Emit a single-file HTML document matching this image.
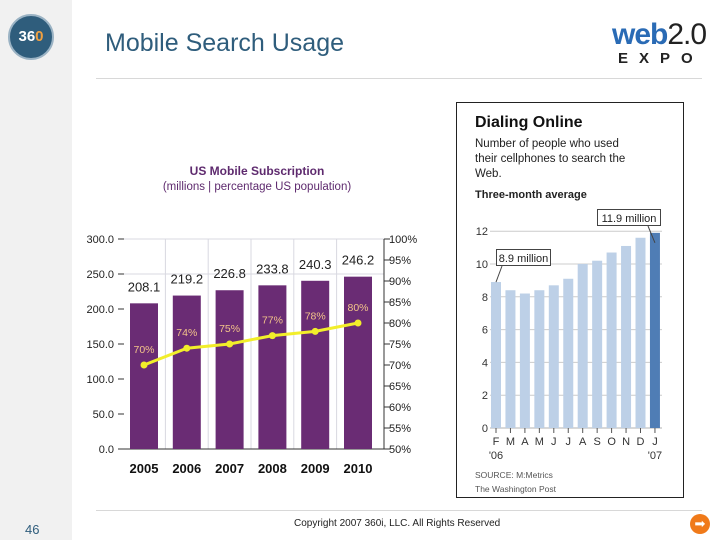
<!DOCTYPE html>
<html><head><meta charset="utf-8"><style>
body{margin:0;width:720px;height:540px;position:relative;background:#fff;font-family:"Liberation Sans",sans-serif;overflow:hidden}
.abs{position:absolute}
</style></head><body>
<div class="abs" style="left:0;top:0;width:72px;height:540px;background:#f1f1f1"></div>
<div class="abs" style="left:8px;top:14px;width:46px;height:46px;border-radius:50%;background:#2f5d7c;border:2px solid #9bb3c4;box-sizing:border-box;color:#fff;font-weight:bold;font-size:15px;line-height:42px;text-align:center">36<span style="color:#f0a040">0</span></div>
<div class="abs" style="left:105px;top:29px;font-size:25px;color:#2f5d7c">Mobile Search Usage</div>
<div class="abs" style="left:612px;top:20px;width:90px;text-align:center">
 <div style="font-size:30px;line-height:30px;letter-spacing:-1px"><span style="color:#2a6bb5;font-weight:bold">web</span><span style="color:#222">2.0</span></div>
 <div style="font-size:15px;font-weight:bold;letter-spacing:11px;color:#222;margin-left:6px">EXPO</div>
</div>
<div class="abs" style="left:96px;top:78px;width:606px;height:1px;background:#d8d8d8"></div>
<div class="abs" style="left:96px;top:510px;width:606px;height:1px;background:#d8d8d8"></div>
<div class="abs" style="left:25px;top:522px;font-size:13px;color:#2f5d7c">46</div>
<div class="abs" style="left:294px;top:518px;font-size:10px;color:#222">Copyright 2007 360i, LLC. All Rights Reserved</div>
<div class="abs" style="left:690px;top:514px;width:20px;height:20px;border-radius:50%;background:#f07a1a;color:#fff;font-size:13px;line-height:20px;text-align:center">➡</div>

<svg class="abs" style="left:0;top:0" width="720" height="540" id="c1"></svg>
<svg class="abs" style="left:0;top:0" width="720" height="540" id="c2"></svg>

<script>
const years=["2005","2006","2007","2008","2009","2010"];
const subs=[208.1,219.2,226.8,233.8,240.3,246.2];
const pct=[70,74,75,77,78,80];
const leftTicks=["0.0","50.0","100.0","150.0","200.0","250.0","300.0"];
const rightTicks=["50%","55%","60%","65%","70%","75%","80%","85%","90%","95%","100%"];

const months=["F","M","A","M","J","J","A","S","O","N","D","J"];
const searches=[8.9,8.4,8.2,8.4,8.7,9.1,10.0,10.2,10.7,11.1,11.6,11.9];
const ticks2=[0,2,4,6,8,10,12];

const NS="http://www.w3.org/2000/svg";
function mk(svg,tag,attrs,txt){const e=document.createElementNS(NS,tag);for(const k in attrs)e.setAttribute(k,attrs[k]);if(txt!==undefined)e.textContent=txt;svg.appendChild(e);return e;}

// Chart 1
const s1=document.getElementById('c1');
const x1=i=>144+i*42.8, y1=v=>449-v*0.7, yp=p=>449-(p-50)*4.2;
let t;
t=mk(s1,'text',{x:257,y:175,'text-anchor':'middle','font-size':12,'font-weight':'bold',fill:'#5e2a6e'},'US Mobile Subscription');

t=mk(s1,'text',{x:257,y:190,'text-anchor':'middle','font-size':11.5,fill:'#5e2a6e'},'(millions | percentage US population)');

for(let i=0;i<5;i++){const gx=(x1(i)+x1(i+1))/2;const l=mk(s1,'line',{x1:gx,x2:gx,y1:239,y2:449,stroke:'#d8d8e0'});}
[250,300].forEach(v=>{const l=mk(s1,'line',{x1:122,x2:384,y1:y1(v),y2:y1(v),stroke:'#d8d8e0'});});
mk(s1,'line',{x1:122,x2:384,y1:449,y2:449,stroke:'#333'});
mk(s1,'line',{x1:384,x2:384,y1:239,y2:449,stroke:'#333'});
leftTicks.forEach(s=>{const v=parseFloat(s);const yy=y1(v);mk(s1,'line',{x1:118,x2:124,y1:yy,y2:yy,stroke:'#333'});
 const e=mk(s1,'text',{x:114,y:yy+4,'text-anchor':'end','font-size':11,fill:'#222'},s);});
rightTicks.forEach(s=>{const v=parseFloat(s);const yy=yp(v);mk(s1,'line',{x1:384,x2:390,y1:yy,y2:yy,stroke:'#333'});
 const e=mk(s1,'text',{x:389,y:yy+4,'font-size':11,fill:'#222'},s);});
years.forEach((yr,i)=>{
 const b=mk(s1,'rect',{x:x1(i)-14,y:y1(subs[i]),width:28,height:subs[i]*0.7,fill:'#6a2c74'});
 
 const v=mk(s1,'text',{x:x1(i),y:y1(subs[i])-12,'text-anchor':'middle','font-size':13,fill:'#222'},subs[i].toFixed(1));
 
 const p=mk(s1,'text',{x:x1(i),y:yp(pct[i])-12,'text-anchor':'middle','font-size':10.5,fill:'#f3c48a'},pct[i]+'%');
 
 const c=mk(s1,'text',{x:x1(i),y:473,'text-anchor':'middle','font-size':13,'font-weight':'bold',fill:'#111'},yr);
 
});
const pl=mk(s1,'polyline',{points:pct.map((p,i)=>x1(i)+','+yp(p)).join(' '),fill:'none',stroke:'#f2ee2a','stroke-width':3});

pct.forEach((p,i)=>{const d=mk(s1,'circle',{cx:x1(i),cy:yp(p),r:3.5,fill:'#f2ee2a'});});

// Chart 2
const s2=document.getElementById('c2');
const x2=i=>496+i*14.45, y2=v=>428-v*16.4;
const fr=mk(s2,'rect',{x:456.5,y:102.5,width:227,height:395,fill:'#fff',stroke:'#222'});

t=mk(s2,'text',{x:475,y:127,'font-size':16,'font-weight':'bold',fill:'#111'},'Dialing Online');
['Number of people who used','their cellphones to search the','Web.'].forEach((s,i)=>{const e=mk(s2,'text',{x:475,y:147+i*15,'font-size':11.5,fill:'#222'},s);});
t=mk(s2,'text',{x:475,y:198,'font-size':11,'font-weight':'bold',fill:'#222'},'Three-month average');
ticks2.forEach(v=>{const yy=y2(v);mk(s2,'line',{x1:490,x2:662,y1:yy,y2:yy,stroke:'#ccc','stroke-width':v?1:1.5});
 const e=mk(s2,'text',{x:488,y:yy+4,'text-anchor':'end','font-size':11,fill:'#333'},v);});
searches.forEach((v,i)=>{const r=mk(s2,'rect',{x:x2(i)-5,y:y2(v),width:10,height:v*16.4,fill:i==11?'#4f7db5':'#bdd0e7'});
 
 mk(s2,'line',{x1:x2(i),x2:x2(i),y1:428,y2:433,stroke:'#555'});
 const e=mk(s2,'text',{x:x2(i),y:445,'text-anchor':'middle','font-size':11,fill:'#333'},months[i]);});
t=mk(s2,'text',{x:x2(0),y:459,'text-anchor':'middle','font-size':11,fill:'#333'},"'06");
t=mk(s2,'text',{x:x2(11),y:459,'text-anchor':'middle','font-size':11,fill:'#333'},"'07");
// callouts
mk(s2,'rect',{x:496.5,y:249.5,width:54,height:16,fill:'#fff',stroke:'#444'});
mk(s2,'line',{x1:502,x2:x2(0),y1:266,y2:y2(searches[0]),stroke:'#444'});
t=mk(s2,'text',{x:523.5,y:262,'text-anchor':'middle','font-size':11,fill:'#222'},searches[0]+' million');
mk(s2,'rect',{x:597.5,y:209.5,width:63,height:16,fill:'#fff',stroke:'#444'});
mk(s2,'line',{x1:648,x2:x2(11),y1:226,y2:y2(searches[11])+10,stroke:'#444'});
t=mk(s2,'text',{x:629,y:222,'text-anchor':'middle','font-size':11,fill:'#222'},searches[11]+' million');
t=mk(s2,'text',{x:475,y:478,'font-size':8.5,fill:'#555'},'SOURCE: M:Metrics');
t=mk(s2,'text',{x:475,y:492,'font-size':8.5,fill:'#555'},'The Washington Post');
</script>
</body></html>
